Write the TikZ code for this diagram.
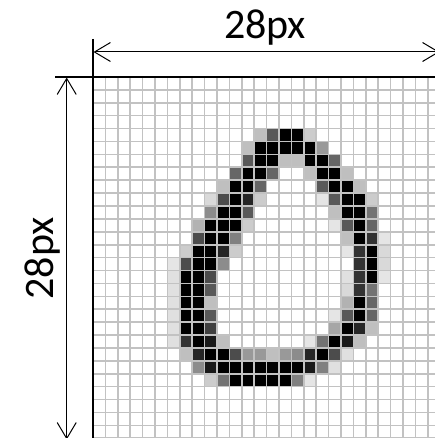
\documentclass[tikz,border=0pt]{standalone}
\usepackage{fontspec}
\setmainfont{Carlito}
\usetikzlibrary{arrows.meta}
\begin{document}
\begin{tikzpicture}[x=1pt,y=-1pt,
  gridline/.style={draw=black!24,line width=1.6pt},
  frameline/.style={draw=black,line width=1.6pt},
  dimarrow/.style={draw=black,line width=1pt,{Straight Barb[length=16pt,width=19pt,line width=1pt]}-{Straight Barb[length=16pt,width=19pt,line width=1pt]}},
  dimlabel/.style={font=\fontsize{42}{48}\selectfont,inner sep=0pt,anchor=base}]
\useasboundingbox (0,0) rectangle (435,438);
\begin{scope}
\clip (0,0) rectangle (435,438);
\def\gx{93}\def\gy{77}\def\cw{12.4}\def\ch{12.9}
% pixel values: row/column/darkness
\foreach \r/\c/\k in {
 4/13/25,4/14/65,4/15/100,4/16/100,4/17/20,
 5/12/25,5/13/100,5/14/100,5/15/100,5/16/100,5/17/100,5/18/40,
 6/12/65,6/13/100,6/14/100,6/15/25,6/16/25,6/17/100,6/18/100,6/19/60,
 7/11/60,7/12/100,7/13/100,7/14/60,7/17/25,7/18/100,7/19/100,7/20/25,
 8/10/25,8/11/100,8/12/100,8/13/60,8/18/65,8/19/100,8/20/100,8/21/25,
 9/9/15,9/10/70,9/11/100,9/12/85,9/13/20,9/18/10,9/19/65,9/20/100,9/21/100,9/22/20,
 10/9/45,10/10/100,10/11/100,10/12/65,10/19/25,10/20/100,10/21/100,10/22/55,
 11/8/30,11/9/100,11/10/100,11/11/100,11/12/20,11/19/10,11/20/65,11/21/100,11/22/60,
 12/8/70,12/9/100,12/10/100,12/11/50,12/20/25,12/21/100,12/22/80,12/23/10,
 13/7/20,13/8/100,13/9/100,13/10/85,13/11/20,13/20/10,13/21/80,13/22/100,13/23/15,
 14/6/10,14/7/70,14/8/100,14/9/100,14/10/45,14/21/80,14/22/100,14/23/15,
 15/6/12,15/7/100,15/8/100,15/9/70,15/20/12,15/21/80,15/22/100,15/23/10,
 16/6/12,16/7/100,16/8/100,16/9/65,16/20/15,16/21/80,16/22/55,
 17/6/12,17/7/100,17/8/100,17/9/25,17/20/30,17/21/100,17/22/60,
 18/6/12,18/7/100,18/8/100,18/9/65,18/19/10,18/20/65,18/21/100,18/22/60,
 19/6/12,19/7/100,19/8/100,19/9/75,19/19/35,19/20/100,19/21/85,19/22/25,
 20/6/12,20/7/80,20/8/100,20/9/90,20/10/25,20/17/10,20/18/55,20/19/100,20/20/90,20/21/25,
 21/7/25,21/8/85,21/9/100,21/10/100,21/11/70,21/12/40,21/13/40,21/14/25,21/15/40,21/16/45,21/17/85,21/18/100,21/19/70,21/20/12,
 22/8/45,22/9/90,22/10/100,22/11/100,22/12/100,22/13/100,22/14/100,22/15/100,22/16/100,22/17/90,22/18/50,22/19/12,
 23/9/20,23/10/55,23/11/100,23/12/100,23/13/100,23/14/100,23/15/100,23/16/50,23/17/10}
 {\fill[black!\k] ({\gx+\c*\cw},{\gy+\r*\ch}) rectangle ++(\cw,\ch);}
\foreach \i in {1,...,28}{
  \draw[gridline] ({\gx+\i*\cw},\gy) -- ++(0,{28*\ch});
  \draw[gridline] (\gx,{\gy+\i*\ch}) -- ++({28*\cw},0);
}
% frame / extension lines
\coordinate (xtop) at (93,39);
\coordinate (xbot) at (93,442);
\coordinate (yleft) at (55,77);
\coordinate (yright) at (442,77);
\draw[frameline] (xtop) -- (xbot);
\draw[frameline] (yleft) -- (yright);
% dimension arrows
\coordinate (hA) at (93.5,52);
\coordinate (hB) at (439.5,52);
\coordinate (vA) at (66.7,77.5);
\coordinate (vB) at (66.7,439.5);
\draw[dimarrow] (hA) -- (hB);
\draw[dimarrow] (vA) -- (vB);
\end{scope}
\node[dimlabel] (toplabel) at (265,39) {28px};
\node[dimlabel,rotate=90] (leftlabel) at (53.5,258.5) {28px};
\end{tikzpicture}
\end{document}
